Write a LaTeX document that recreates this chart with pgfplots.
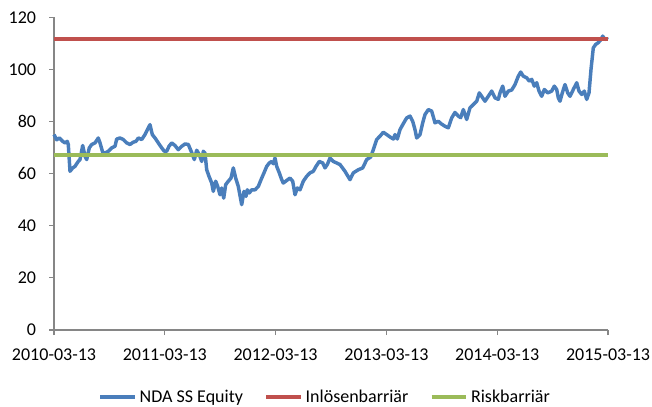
\documentclass[border=0pt]{standalone}
\usepackage{pgfplots}
\pgfplotsset{compat=1.18}
\usepackage{pgfplotstable}
\usepackage{fontspec}
\setmainfont{Carlito}
\definecolor{cblue}{RGB}{74,126,187}
\definecolor{cred}{RGB}{192,80,77}
\definecolor{cgreen}{RGB}{155,187,89}
\definecolor{caxis}{RGB}{134,134,134}
% px position (x pixel in reference), value
\pgfplotstableread{
px v
54 75
56.7 73
59.3 73.7
62.7 72.4
65 71.8
67.3 72.4
68.3 71.2
70 60.9
72.7 62.2
75 62.8
78.3 64.7
80 65.4
82.7 70.8
85 66.7
86.7 65.4
89.3 69.9
91.7 71.2
95 71.8
98.3 73.7
100 71.8
102.7 68.2
105 67.9
108.3 68.6
111.7 69.9
115 70.5
116.7 73.3
120 73.7
123.3 73.1
126.7 71.8
130 71.2
133.3 72.1
136 72.4
138.3 73.7
141.7 73.1
145 75
148.3 77.6
150 78.8
152.3 75
155 73.7
158.3 71.8
161.7 69.9
164.3 68.6
166.7 68.6
169 70.5
171.7 71.8
175 70.8
178.3 69.2
181.7 70.5
185 71.4
188.3 71.2
191.7 68.1
194.3 65.4
196.7 69
199.3 67.3
201.7 64.7
203.3 68.6
205 67.9
206.7 61.5
209 59
211.7 56.4
213.3 53.2
215.7 57.1
217.7 55.1
220 51.9
221.7 54.5
223.7 50.6
225.7 55.8
228.3 57.1
231 58.3
233.3 62.2
235.7 58.3
238.3 55.1
241.7 48.1
244 53.2
246 51.3
247.3 53.8
249.3 52.6
251.7 53.8
255 53.8
258.3 55.1
261.7 58.3
264 60.3
266.7 62.8
269.3 64.1
271.7 64.7
273.3 63.8
275 66
276.7 62.8
279.3 60.3
281.7 57.7
283.3 56.4
286.7 57.4
290 58.3
292.7 57.1
295 51.9
297.3 54.5
300 53.8
303.3 57.1
306.7 59
310 60.3
313.3 60.9
316 62.8
319.3 64.7
322.7 64.1
325 62.2
327.3 63.5
330 66
333.3 64.7
336.7 64.1
340 63.5
345 60.9
350 57.7
353.3 60.3
358.3 61.5
362.7 62.2
366.7 65.4
370.7 66.4
373.3 69.2
376.7 73.1
380 74.4
383.3 75.9
386.7 75
390 74.1
393.3 73.3
395 75
397.3 73.3
400 76.9
403.3 79.2
406.7 81.4
410 82.1
412.7 80.1
415 76.9
416.7 73.7
420 75
422.7 79.5
425 82.7
428.3 84.6
431.7 84.0
435 79.5
438.3 80.1
441.7 79
445 78.2
448.3 77.6
451.7 81.4
455 83.5
458.3 82.1
460.7 81.5
463.3 84.6
466.7 80.8
470 85.3
473.3 86.5
476.7 87.8
479.3 91
482.7 89.1
485 87.8
488.3 89.7
491.7 91.7
495 89.1
498.3 88.5
500 91
502.7 93.6
505 89.7
508.3 91.7
511.7 92.1
515 94.2
518.3 97.4
520.7 99
523.3 97.4
526.7 96.8
529.3 95.5
531.7 96.2
534.3 93.6
536.7 94.9
539 91.7
541.7 89.7
544.3 92.3
547.7 91
551.7 91.7
554.3 93.6
556.7 92.3
558.3 89.1
560 87.8
562.3 91
565 94.2
567.7 91
570 89.7
573.3 92.3
576.7 94.9
579 91.7
581.7 90.4
584.3 91.7
586.7 88.5
589 91
591 100
593.3 108.3
595.7 109.6
598.3 110.3
601 111.5
602.7 112.8
605 111.5
606.7 111.8
608 111.5
}\equity
\pgfplotstableread{
t v
0 111.7
5 111.7
}\inlosen
\pgfplotstableread{
t v
0 67
5 67
}\risk
\begin{document}
\fontsize{13.5}{16}\selectfont
\begin{tikzpicture}
\begin{axis}[
  name=ax,
  scale only axis,
  width=415.5pt, height=234.5pt,
  xmin=0, xmax=5, ymin=0, ymax=120,
  axis x line=bottom, axis y line=left,
  axis line style={-, draw=caxis, line width=0.8pt},
  xtick={0,1,2,3,4,5},
  xticklabels={2010-03-13,2011-03-13,2012-03-13,2013-03-13,2014-03-13,2015-03-13},
  ytick={0,20,40,60,80,100,120},
  tick align=outside,
  major tick length=3.75pt,
  tick style={draw=caxis, line width=0.8pt},
  /pgf/number format/assume math mode=true,
  tick label style={font=\fontsize{13.5}{16}\selectfont},
  yticklabel style={xshift=-5pt},
  xticklabel style={yshift=-6pt},
  legend columns=3,
  legend style={draw=none, at={(0.49,-0.215)}, anchor=center,
    font=\fontsize{13.5}{16}\selectfont,
    /tikz/every even column/.append style={column sep=14pt}},
  legend image code/.code={\draw[#1, line width=3pt] (0pt,0pt) -- (26pt,0pt);},
  clip=false,
]
\addplot[cblue, line width=2.6pt, line join=round] table[x expr={(\thisrowno{0}-54)/110.8}, y index=1] {\equity};
\addlegendentry{NDA SS Equity}
\addplot[cred, line width=3pt] table[x index=0, y index=1] {\inlosen};
\addlegendentry{Inlösenbarriär}
\addplot[cgreen, line width=3pt] table[x index=0, y index=1] {\risk};
\addlegendentry{Riskbarriär}
\end{axis}
\pgfresetboundingbox
\path ([shift={(-40.5pt,-57.5pt)}]ax.south west) rectangle ([shift={(33pt,13pt)}]ax.north east);
\end{tikzpicture}
\end{document}
